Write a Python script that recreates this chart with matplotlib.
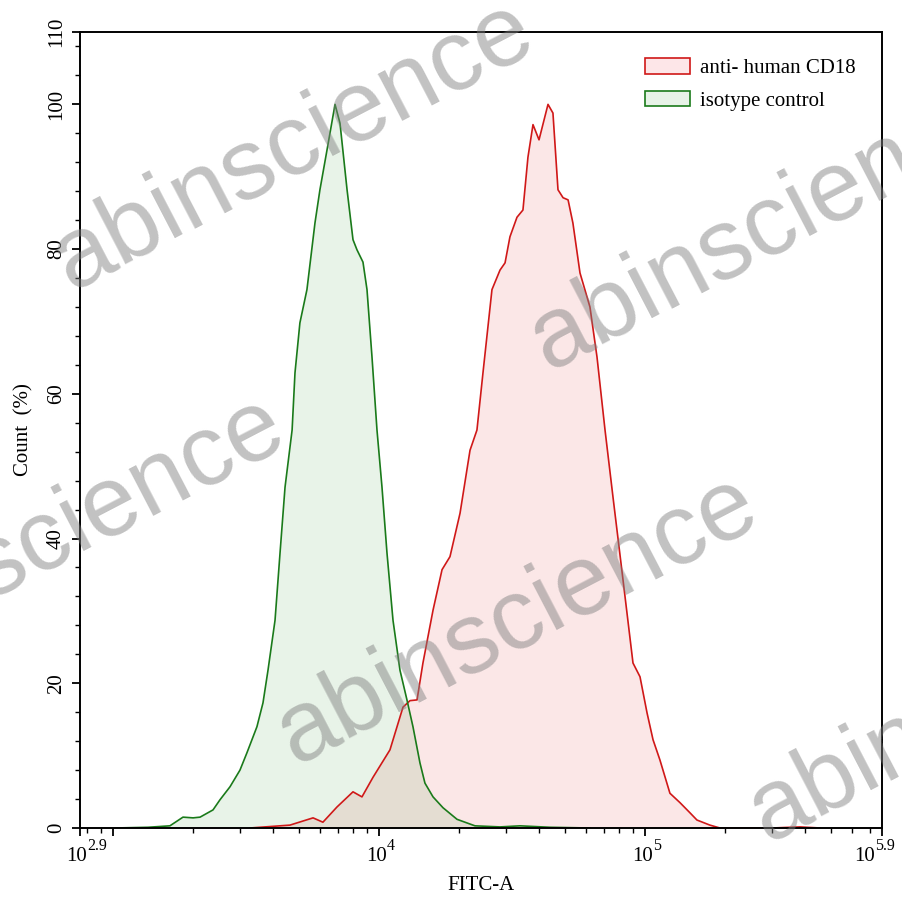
import numpy as np
import matplotlib
matplotlib.use("Agg")
import matplotlib.pyplot as plt
from matplotlib.patches import Patch
from matplotlib.ticker import FixedLocator, NullFormatter

plt.rcParams["font.family"] = ["Liberation Serif", "DejaVu Serif"]

# isotype control histogram (FITC-A intensity, % of max count)
iso_fitc = [1018, 1355, 1637, 1833, 2000, 2125, 2377, 2525, 2754, 3002, 3189,
            3477, 3664, 3826, 4066, 4246, 4434, 4714, 4833, 5043, 5360, 5745,
            5998, 6377, 6835, 7135, 7585, 7985, 8265, 8706, 9014, 9412, 9828,
            10263, 10717, 11290, 11993, 12740, 13419, 14256, 14886, 15965,
            17404, 19650, 22950, 28510, 33880, 43940, 62100]
iso_count = [0, 0.1, 0.3, 1.5, 1.4, 1.5, 2.5, 3.9, 5.7, 8.0, 10.4,
             14.0, 17.3, 21.8, 28.7, 38.0, 47.1, 55.0, 62.9, 69.8, 74.4, 83.6,
             88.2, 93.7, 100, 97.4, 88.2, 81.3, 79.9, 78.2, 74.4, 65.1, 55.0,
             47.1, 38.0, 28.7, 21.8, 17.7, 14.0, 9.0, 6.2, 4.3,
             2.8, 1.2, 0.3, 0.15, 0.3, 0.1, 0]

# anti-human CD18 histogram
cd18_fitc = [3273, 4627, 5651, 6155, 6950, 7985, 8630, 9493, 10997, 12310,
             13080, 13900, 14630, 15965, 17260, 18490, 20170, 21990, 23350,
             24600, 26590, 28510, 29780, 31070, 33020, 34770, 36310, 37930,
             39960, 43190, 45080, 47090, 49200, 51390, 53580, 56970, 62100,
             66000, 70750, 75820, 82670, 90130, 95770, 101800, 107200, 113800,
             124100, 135400, 147600, 156800, 175400, 191300, 300000, 382600,
             455000]
cd18_count = [0, 0.4, 1.4, 0.8, 2.9, 5.0, 4.3, 7.0, 10.8, 16.7,
              17.6, 17.7, 22.8, 30.1, 35.7, 37.5, 43.5, 52.2, 55.0,
              62.9, 74.4, 77.1, 78.1, 81.7, 84.4, 85.4, 92.7, 97.2,
              95.1, 100, 98.8, 88.2, 87.1, 86.8, 83.6, 76.7, 72.0,
              65.1, 55.0, 45.7, 34.3, 22.8, 20.9, 15.9, 12.2, 9.4,
              4.8, 3.5, 2.1, 1.1, 0.4, 0, 0, 0.15,
              0]

x_limits = [10 ** 2.876, 10 ** 5.891]
x_major = [10 ** 2.876, 1e3, 1e4, 1e5, 10 ** 5.891]
x_label_pos = [10 ** 2.876, 1e4, 1e5, 10 ** 5.891]
x_label_exp = ["2.9", "4", "5", "5.9"]
y_major = [0, 20, 40, 60, 80, 100, 110]

red = "#d01818"
green = "#1a7a1a"
PT = 0.72  # points per pixel at dpi 100

fig = plt.figure(figsize=(9.02, 9.06), dpi=100)
ax = fig.add_axes([80 / 902, 1 - 828 / 906, 802 / 902, 796 / 906])

ax.fill_between(cd18_fitc, cd18_count, color=(0.86, 0.08, 0.08), alpha=0.1, lw=0)
ax.plot(cd18_fitc, cd18_count, color=red, lw=1.2)
ax.fill_between(iso_fitc, iso_count, color=(0.0, 0.5, 0.0), alpha=0.09, lw=0)
ax.plot(iso_fitc, iso_count, color=green, lw=1.2)

ax.set_xscale("log")
ax.set_xlim(x_limits)
ax.set_ylim(0, 110)

ax.xaxis.set_major_locator(FixedLocator(x_major))
ax.xaxis.set_major_formatter(NullFormatter())
minors = [m * 10 ** e for e in (2, 3, 4, 5) for m in range(2, 10)]
minors = [v for v in minors if x_limits[0] < v < x_limits[1]]
ax.xaxis.set_minor_locator(FixedLocator(minors))
ax.xaxis.set_minor_formatter(NullFormatter())

# "10" centred under the tick, exponent raised to its right
for val, exp, dx in zip(x_label_pos, x_label_exp, [-3, -2, -2, -17]):
    ax.annotate("10", xy=(val, 0), xycoords=("data", "axes fraction"),
                xytext=(dx * PT, -33 * PT), textcoords="offset points",
                ha="center", va="baseline", fontsize=15, annotation_clip=False)
    ax.annotate(exp, xy=(val, 0), xycoords=("data", "axes fraction"),
                xytext=((dx + 10) * PT, -22 * PT), textcoords="offset points",
                ha="left", va="baseline", fontsize=11.5, annotation_clip=False)

ax.set_yticks(y_major)
ax.set_yticklabels([str(v) for v in y_major], rotation=90, va="center", fontsize=15)
ax.yaxis.set_minor_locator(FixedLocator(list(range(0, 110, 4))))

ax.tick_params(which="major", direction="out", length=6, width=1.3, pad=4)
ax.tick_params(which="minor", direction="out", length=3.5, width=1.0)
for s in ax.spines.values():
    s.set_linewidth(1.4)

ax.set_xlabel("FITC-A", fontsize=15, va="center")
ax.xaxis.set_label_coords(0.5, (828 - 886) / 796)
ax.set_ylabel("Count  (%)", fontsize=15, labelpad=10)

handles = [Patch(facecolor="#fde6e8", edgecolor=red, lw=1.2, label="anti- human CD18"),
           Patch(facecolor="#e7f3e7", edgecolor=green, lw=1.2, label="isotype control")]
ax.legend(handles=handles, loc="upper left", bbox_to_anchor=(0.7045, 0.967),
          frameon=False, fontsize=15, handlelength=2.15, handleheight=0.75,
          handletextpad=0.5, labelspacing=0.62, borderpad=0, borderaxespad=0)

# watermark
for cx, cy in [(294, 146), (771, 226), (45, 541), (518, 620), (990, 698)]:
    fig.text(cx / 902, 1 - cy / 906, "abinscience", family="Liberation Sans",
             fontsize=72, color=(0.5, 0.5, 0.5), alpha=0.48, rotation=27.5,
             ha="center", va="center", rotation_mode="anchor", zorder=10)

fig.savefig("out.png", dpi=100)
